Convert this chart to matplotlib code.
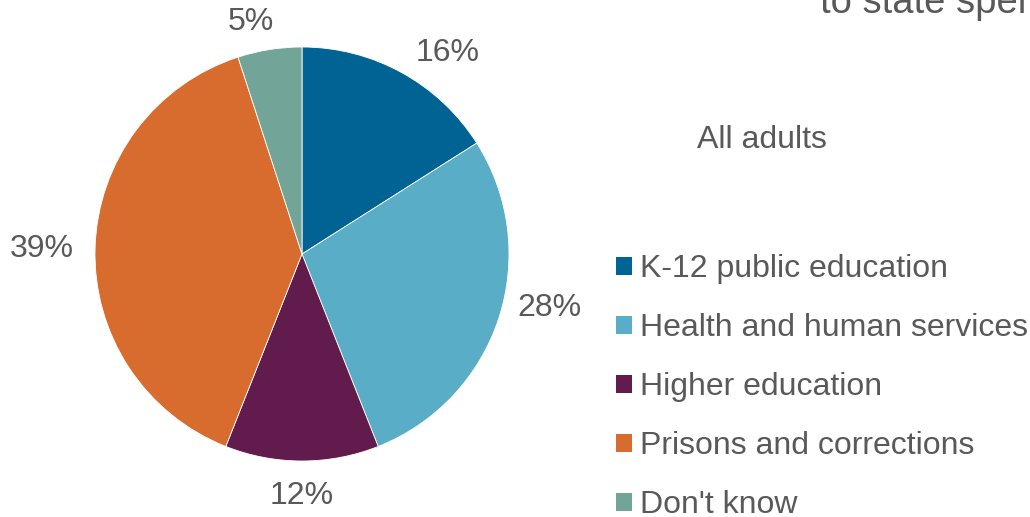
import matplotlib
matplotlib.use("Agg")
import matplotlib.pyplot as plt
import numpy as np

categories = ["K-12 public education", "Health and human services", "Higher education",
              "Prisons and corrections", "Don't know"]
values = [16, 28, 12, 39, 5]
colors = ["#006394", "#5AADC6", "#621B4D", "#D76C2E", "#72A497"]
subtitle = "All adults"
title_tail = "to state spending"

# style: pixel nudges of the percentage labels from their radial anchor
label_nudges = [(26, 25), (11, -15), (0, 2), (-12, 11), (-12, 21)]

plt.rcParams['font.family'] = ['Liberation Sans', 'DejaVu Sans']
TXT = "#595959"
FS = 23

W, H = 1030, 517
fig = plt.figure(figsize=(W / 100, H / 100), dpi=100)
fig.patch.set_facecolor("white")

cx, cy, r = 302, 254, 207
ax = fig.add_axes([(cx - r) / W, (H - cy - r) / H, 2 * r / W, 2 * r / H])
wedges, _ = ax.pie(values, colors=colors, startangle=90, counterclock=False,
                   radius=1, wedgeprops=dict(linewidth=0.6, edgecolor="white"))
ax.set_xlim(-1, 1)
ax.set_ylim(-1, 1)
ax.set_aspect("equal")
ax.axis("off")

total = sum(values)
for w, v, (dx, dy) in zip(wedges, values, label_nudges):
    mid = np.deg2rad((w.theta1 + w.theta2) / 2)
    d = 1.2
    ax.annotate(f"{round(100 * v / total)}%", xy=(d * np.cos(mid), d * np.sin(mid)),
                xytext=(dx, -dy), textcoords="offset pixels",
                ha="center", va="baseline", fontsize=FS, color=TXT,
                annotation_clip=False)

fig.text(762 / W, 1 - 140 / H, subtitle, ha="center", va="center", fontsize=FS, color=TXT)
fig.text(820 / W, 1 - 13 / H, title_tail, ha="left", va="baseline", fontsize=27.5, color=TXT)

leg = fig.legend(wedges, categories, loc="upper left",
                 bbox_to_anchor=(616 / W, 1 - 254 / H), frameon=False,
                 fontsize=FS, labelcolor=TXT, handlelength=0.5, handleheight=0.5,
                 handletextpad=0.25, labelspacing=0.91, borderpad=0, borderaxespad=0)
for h in leg.legend_handles:
    h.set_edgecolor("none")

fig.savefig("out.png", dpi=100)
